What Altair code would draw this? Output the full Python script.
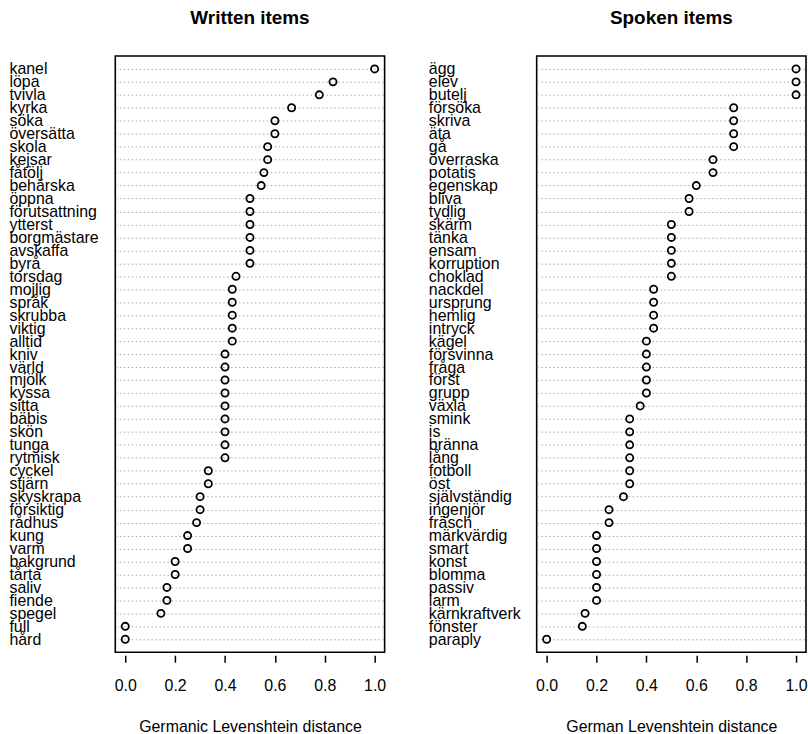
import altair as alt
import pandas as pd

written_words = ["kanel", "löpa", "tvivla", "kyrka", "söka", "översätta", "skola", "kejsar",
                 "fåtölj", "behärska", "öppna", "förutsattning", "ytterst", "borgmästare",
                 "avskaffa", "byrå", "torsdag", "mojlig", "språk", "skrubba", "viktig", "alltid",
                 "kniv", "värld", "mjölk", "kyssa", "sitta", "bäbis", "skön", "tunga", "rytmisk",
                 "cyckel", "stjärn", "skyskrapa", "försiktig", "rådhus", "kung", "varm",
                 "bakgrund", "tårta", "saliv", "fiende", "spegel", "full", "hård"]
written_vals = [1.0, 0.833, 0.778, 0.667, 0.6, 0.6, 0.571, 0.571,
                0.556, 0.545, 0.5, 0.5, 0.5, 0.5,
                0.5, 0.5, 0.444, 0.429, 0.429, 0.429, 0.429, 0.429,
                0.4, 0.4, 0.4, 0.4, 0.4, 0.4, 0.4, 0.4, 0.4,
                0.333, 0.333, 0.3, 0.3, 0.286, 0.25, 0.25,
                0.2, 0.2, 0.167, 0.167, 0.143, 0.0, 0.0]

spoken_words = ["ägg", "elev", "butelj", "försöka", "skriva", "äta", "gå", "överraska",
                "potatis", "egenskap", "bliva", "tydlig", "skärm", "tänka", "ensam",
                "korruption", "choklad", "nackdel", "ursprung", "hemlig", "intryck", "kägel",
                "försvinna", "fråga", "först", "grupp", "växla", "smink", "is", "bränna",
                "lång", "fotboll", "öst", "självständig", "ingenjör", "fräsch", "märkvärdig",
                "smart", "konst", "blomma", "passiv", "larm", "kärnkraftverk", "fönster", "paraply"]
spoken_vals = [1.0, 1.0, 1.0, 0.75, 0.75, 0.75, 0.75, 0.667,
               0.667, 0.6, 0.571, 0.571, 0.5, 0.5, 0.5,
               0.5, 0.5, 0.429, 0.429, 0.429, 0.429, 0.4,
               0.4, 0.4, 0.4, 0.4, 0.375, 0.333, 0.333, 0.333,
               0.333, 0.333, 0.333, 0.308, 0.25, 0.25, 0.2,
               0.2, 0.2, 0.2, 0.2, 0.2, 0.154, 0.143, 0.0]

FONT = "Liberation Sans"
tick_vals = [0.0, 0.2, 0.4, 0.6, 0.8, 1.0]


def panel(words, vals, title, xtitle, label_pad):
    df = pd.DataFrame({"word": words, "value": vals})
    return alt.Chart(df).mark_point(
        shape="circle", filled=False, size=52, strokeWidth=1.8, color="black", opacity=1
    ).encode(
        x=alt.X("value:Q", scale=alt.Scale(domain=[-0.04, 1.04], nice=False, zero=False),
                axis=alt.Axis(values=tick_vals, format=".1f", grid=False, domain=False,
                              ticks=True, tickSize=7, tickColor="black", tickWidth=1.5,
                              offset=3, labelPadding=15, labelFontSize=16, labelFont=FONT,
                              labelColor="black", title=xtitle, titleFont=FONT,
                              titleFontSize=16, titleFontWeight="normal", titleColor="black",
                              titlePadding=26, labelFlush=False)),
        y=alt.Y("word:N", sort=words, scale=alt.Scale(type="point", padding=1.0),
                axis=alt.Axis(title=None, ticks=False, tickSize=0, domain=False, grid=True,
                              gridColor="#a8a8a8", gridDash=[1.5, 2.5], gridWidth=1,
                              labelAlign="left", labelPadding=label_pad, labelFontSize=16,
                              labelFont=FONT, labelColor="black", labelBaseline="middle",
                              labelLimit=0, labelOverlap=False)),
    ).properties(
        width=271, height=600,
        title=alt.TitleParams(title, font=FONT, fontSize=19, fontWeight="bold",
                              color="black", offset=28, anchor="middle"),
    )


left = panel(written_words, written_vals, "Written items", "Germanic Levenshtein distance", 107)
right = panel(spoken_words, spoken_vals, "Spoken items", "German Levenshtein distance", 109)

chart = alt.hconcat(left, right, spacing=41).properties(
    padding={"left": 8, "top": 6, "right": 0, "bottom": 0}
).configure(background="white").configure_view(stroke="#000000", strokeWidth=1.6)

chart.save("out.html", embed_options={"renderer": "svg", "actions": False})
